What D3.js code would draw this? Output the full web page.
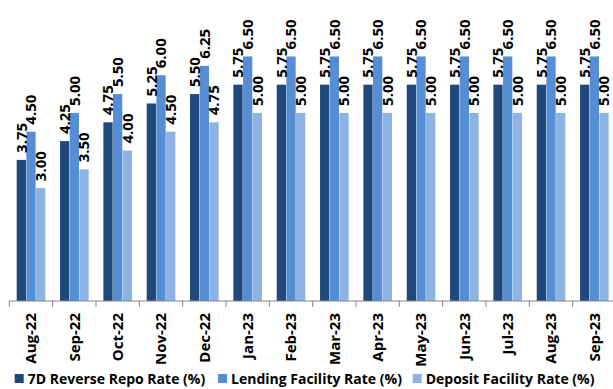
<!DOCTYPE html>
<html>
<head>
    <meta charset="utf-8">
    <title>Policy rates</title>
    <script src="https://d3js.org/d3.v7.min.js"></script>
    <style type="text/css">
        body { margin: 0; background: #fff; }
        text { font-family: "Open Sans", sans-serif; font-weight: bold; fill: #000; }
    </style>
</head>
<body>
    <script type="text/javascript">
        let months = ["Aug-22", "Sep-22", "Oct-22", "Nov-22", "Dec-22", "Jan-23", "Feb-23",
                      "Mar-23", "Apr-23", "May-23", "Jun-23", "Jul-23", "Aug-23", "Sep-23"];
        let seriesNames = ["7D Reverse Repo Rate (%)", "Lending Facility Rate (%)", "Deposit Facility Rate (%)"];
        let repoRate = [3.75, 4.25, 4.75, 5.25, 5.50, 5.75, 5.75, 5.75, 5.75, 5.75, 5.75, 5.75, 5.75, 5.75];
        let lendingRate = [4.50, 5.00, 5.50, 6.00, 6.25, 6.50, 6.50, 6.50, 6.50, 6.50, 6.50, 6.50, 6.50, 6.50];
        let depositRate = [3.00, 3.50, 4.00, 4.50, 4.75, 5.00, 5.00, 5.00, 5.00, 5.00, 5.00, 5.00, 5.00, 5.00];
        let colors = ["#1f497d", "#558ed5", "#8db3e2"];

        let width = 613, height = 389;
        let svg = d3.select("body").append("svg")
            .attr("width", width)
            .attr("height", height);

        let allSeries = [repoRate, lendingRate, depositRate];

        let x0 = d3.scaleBand().domain(months).range([9.3, 616.0]);
        let x1 = d3.scaleBand().domain(d3.range(3)).range([7.4, 36.0]).paddingInner(0.04);
        let y = d3.scaleLinear().domain([0, 8]).range([301, 0]);
        let fmt = d3.format(".2f");

        let groups = svg.selectAll("g.month")
            .data(months)
            .join("g")
            .attr("class", "month")
            .attr("transform", d => "translate(" + x0(d) + ",0)");

        groups.selectAll("rect")
            .data((m, i) => allSeries.map((s, k) => ({k: k, v: s[i]})))
            .join("rect")
            .attr("x", d => x1(d.k))
            .attr("width", x1.bandwidth())
            .attr("y", d => y(d.v))
            .attr("height", d => y(0) - y(d.v))
            .style("fill", d => colors[d.k]);

        // value labels, rotated, sitting above each bar
        groups.selectAll("text.val")
            .data((m, i) => allSeries.map((s, k) => ({k: k, v: s[i]})))
            .join("text")
            .attr("class", "val")
            .attr("transform", d => "translate(" + (x1(d.k) + x1.bandwidth() / 2) + "," + (y(d.v) - 7) + ") rotate(-90)")
            .attr("dy", "0.36em")
            .style("font-size", "15px")
            .text(d => fmt(d.v));

        // category axis
        let axis = svg.append("g").attr("class", "axis");
        axis.append("line")
            .attr("x1", x0.range()[0]).attr("x2", width)
            .attr("y1", y(0)).attr("y2", y(0))
            .style("stroke", "#868686").style("stroke-width", 1);
        axis.selectAll("line.tick")
            .data(months)
            .join("line")
            .attr("class", "tick")
            .attr("x1", d => x0(d)).attr("x2", d => x0(d))
            .attr("y1", y(0)).attr("y2", y(0) + 6)
            .style("stroke", "#868686").style("stroke-width", 1);
        axis.selectAll("text")
            .data(months)
            .join("text")
            .attr("transform", d => "translate(" + (x0(d) + x0.bandwidth() / 2) + "," + (y(0) + 12) + ") rotate(-90)")
            .attr("dy", "0.36em")
            .attr("text-anchor", "end")
            .style("font-size", "15px")
            .text(d => d);

        // legend
        let legendX = [14.7, 218, 412.7];
        let legend = svg.append("g").attr("class", "legend");
        let items = legend.selectAll("g")
            .data(seriesNames)
            .join("g")
            .attr("transform", (d, i) => "translate(" + legendX[i] + ",374)");
        items.append("rect")
            .attr("width", 9).attr("height", 9)
            .style("fill", (d, i) => colors[i]);
        items.append("text")
            .attr("x", 13)
            .attr("y", 10)
            .style("font-size", "14px")
            .text(d => d);
    </script>
</body>
</html>
